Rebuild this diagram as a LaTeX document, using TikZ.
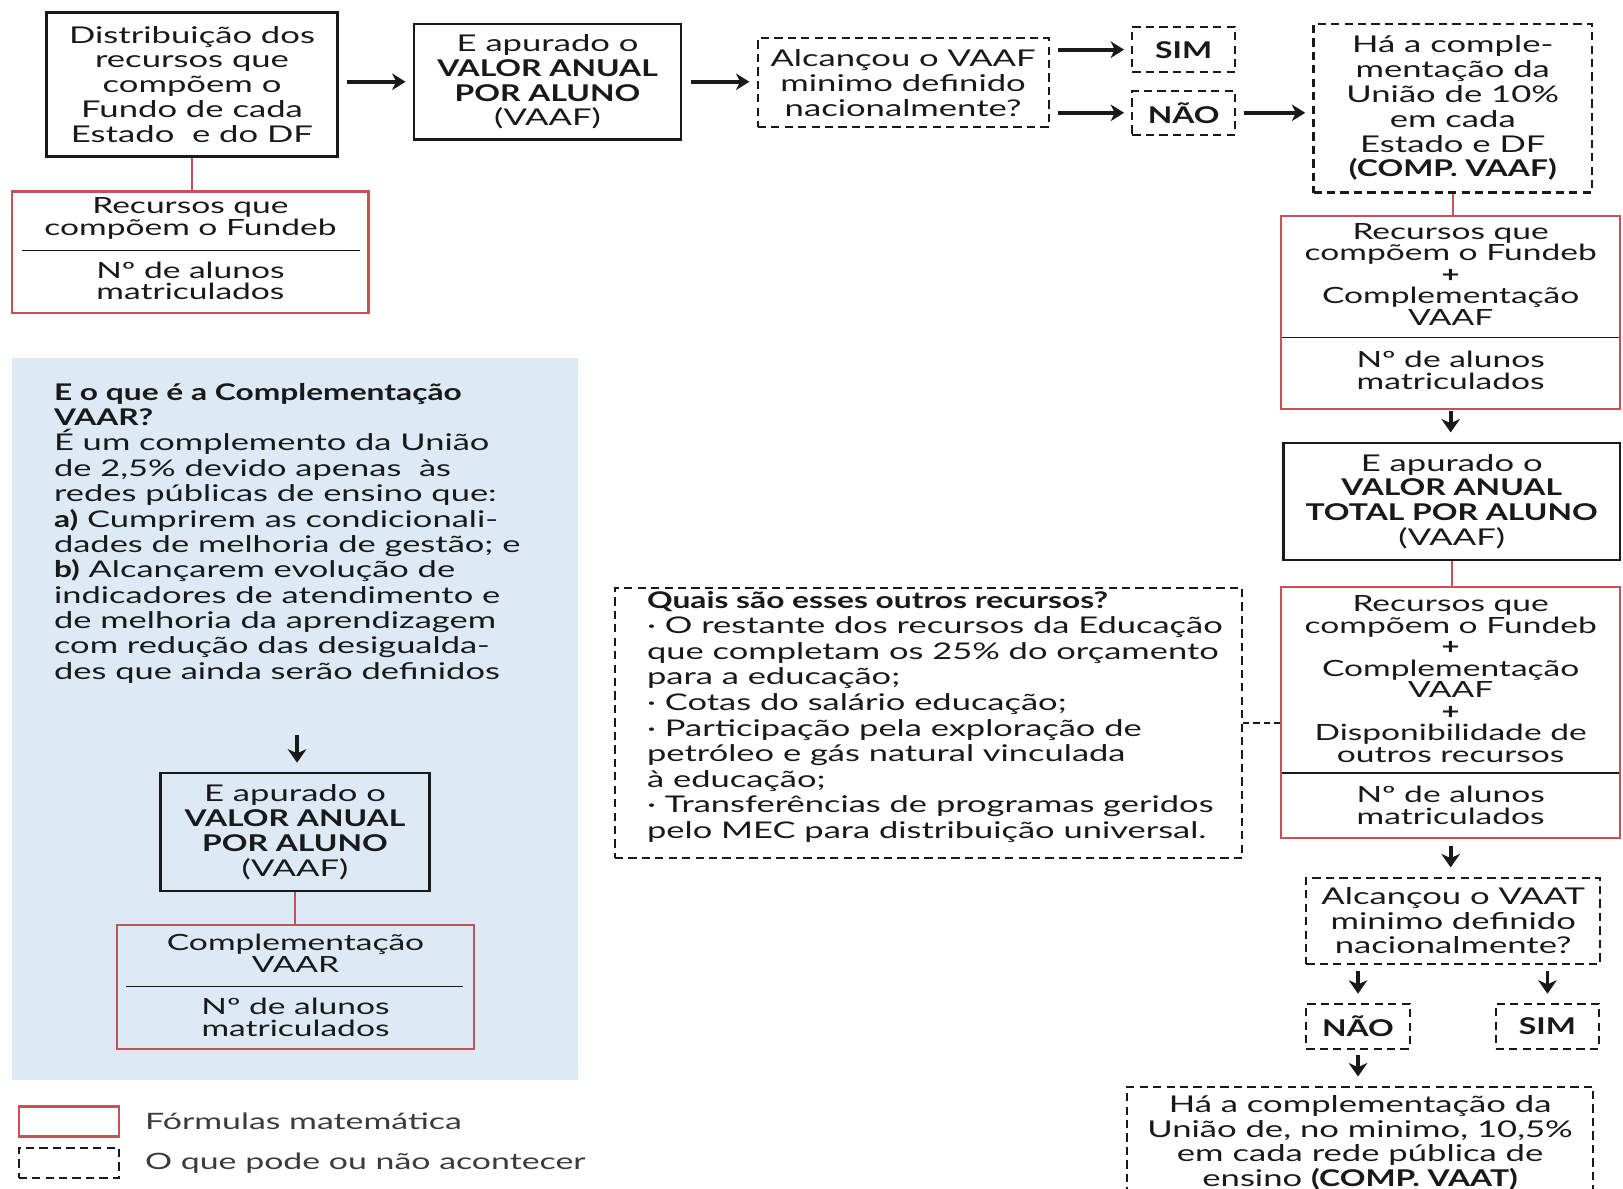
\documentclass[tikz,border=0pt]{standalone}
\usepackage{fontspec}
\setmainfont[FakeStretch=1.5,BoldFeatures={FakeStretch=1.38}]{Lato}
\usetikzlibrary{arrows.meta,calc}
\definecolor{fred}{RGB}{196,82,86}
\definecolor{panelblue}{RGB}{221,234,245}
\definecolor{ink}{RGB}{25,25,25}
\tikzset{
  boxfont/.style={font=\fontsize{22.3}{24}\selectfont},
  solidbox/.style={draw=ink, line width=2.4pt, inner sep=0pt, align=center, text=ink, boxfont},
  dashbox/.style={draw=ink, line width=2pt, dash pattern=on 8pt off 5pt, inner sep=0pt, align=center, text=ink, boxfont},
  boldbox/.style={dashbox, font=\bfseries\fontsize{22.3}{24}\selectfont},
  redbox/.style={draw=fred, line width=2pt, inner sep=0pt},
  redtxt/.style={inner sep=0pt, align=center, text=ink, font=\fontsize{21.6}{20.8}\selectfont},
  plaintxt/.style={inner sep=0pt, align=center, text=ink, font=\fontsize{22.3}{23.6}\selectfont},
  lefttxt/.style={inner sep=0pt, align=left, text=ink, anchor=north west},
  arr/.style={draw=ink, line width=3.6pt, -{Stealth[length=13pt,width=16pt,inset=4pt]}, shorten <=8pt, shorten >=7pt},
  varr/.style={draw=ink, line width=3.6pt, -{Stealth[length=13pt,width=18pt,inset=4pt]}},
  redlink/.style={draw=fred, line width=1.8pt},
  divider/.style={draw=ink, line width=1.6pt},
  dashlink/.style={draw=ink, line width=1.8pt, dash pattern=on 6pt off 4pt},
}
\begin{document}
\begin{tikzpicture}[x=1pt,y=-1pt]
\useasboundingbox[fill=white] (0,0) rectangle (1568,1148);
\clip (0,0) rectangle (1568,1148);

% blue panel
\node[fill=panelblue, minimum width=546, minimum height=697, inner sep=0pt] (panel) at (285,694.5) {};

% top row
\node[solidbox, minimum width=281, minimum height=139] (b1) at (185.5,81.5)
  {Distribuição dos\\recursos que\\compõem o\\Fundo de cada\\Estado\ \ e do DF};
\node[solidbox, minimum width=258, minimum height=112] (b2) at (529,79)
  {E apurado o\\\textbf{VALOR ANUAL}\\\textbf{POR ALUNO}\\(VAAF)};
\node[dashbox, minimum width=281, minimum height=86] (b3) at (872.5,80)
  {Alcançou o VAAF\\minimo definido\\nacionalmente?};
\node[boldbox, minimum width=99, minimum height=44] (sim1) at (1143.5,48) {SIM};
\node[boldbox, minimum width=99, minimum height=42] (nao1) at (1143.5,109) {NÃO};
\node[dashbox, minimum width=269, minimum height=163] (comp1) at (1403.5,104.5)
  {Há a comple-\\mentação da\\União de 10\%\\em cada\\Estado e DF\\\textbf{(COMP. VAAF)}};

\draw[arr] (b1.east |- b2.west) -- (b2.west);
\draw[arr] (b2.east) -- (b2.east -| b3.west);
\draw[arr] (b3.east |- sim1.west) -- (sim1.west);
\draw[arr] (b3.east |- nao1.west) -- (nao1.west);
\draw[arr] (nao1.east) -- (nao1.east -| comp1.west);

% R1
\node[redbox, minimum width=344, minimum height=117] (r1) at (184,243.5) {};
\node[redtxt] (r1a) at (184,211) {Recursos que\\compõem o Fundeb};
\node[redtxt] (r1b) at (184,271.5) {Nº de alunos\\matriculados};
\draw[divider] (21,242) -- (348,242);
\draw[redlink] (b1.south) -- (b1.south |- r1.north);

% R2
\node[redbox, minimum width=327, minimum height=186] (r2) at (1401.5,302) {};
\node[redtxt] (r2a) at (1401.5,265) {Recursos que\\compõem o Fundeb\\\textbf{+}\\Complementação\\VAAF};
\node[redtxt] (r2b) at (1401.5,358) {Nº de alunos\\matriculados};
\draw[divider] (1239,326) -- (1564,326);
\draw[redlink] (comp1.south) -- (comp1.south |- r2.north);

% total
\node[solidbox, minimum width=325, minimum height=113] (tot) at (1402.5,484.5)
  {E apurado o\\\textbf{VALOR ANUAL}\\\textbf{TOTAL POR ALUNO}\\(VAAF)};
\draw[varr, shorten <=1pt, shorten >=9pt] (r2.south) -- (r2.south |- tot.north);

% R3
\node[redbox, minimum width=327, minimum height=243] (r3) at (1401.5,688.5) {};
\node[redtxt] (r3a) at (1401.5,656) {Recursos que\\compõem o Fundeb\\\textbf{+}\\Complementação\\VAAF\\\textbf{+}\\Disponibilidade de\\outros recursos};
\node[redtxt] (r3b) at (1401.5,778) {Nº de alunos\\matriculados};
\draw[divider] (1239,747) -- (1564,747);
\draw[redlink] (tot.south) -- (tot.south |- r3.north);

% other resources
\node[dashbox, minimum width=606, minimum height=261] (q) at (897,698.5) {};
\node[lefttxt, font=\fontsize{22.2}{24.7}\selectfont] (qt) at (625,571)
  {\textbf{Quais são esses outros recursos?}\\
   · O restante dos recursos da Educação\\
   que completam os 25\% do orçamento\\
   para a educação;\\
   · Cotas do salário educação;\\
   · Participação pela exploração de\\
   petróleo e gás natural vinculada\\
   à educação;\\
   · Transferências de programas geridos\\
   pelo MEC para distribuição universal.};
\draw[dashlink] (q.east) -- (q.east -| r3.west);

% VAAT
\node[dashbox, minimum width=284, minimum height=83] (vaat) at (1404,889.5)
  {Alcançou o VAAT\\minimo definido\\nacionalmente?};
\draw[varr, shorten <=6pt, shorten >=9pt] (r3.south) -- (r3.south |- vaat.north);
\node[boldbox, minimum width=100, minimum height=43] (nao2) at (1312,991.5) {NÃO};
\node[boldbox, minimum width=100, minimum height=43] (sim2) at (1495,991.5) {SIM};
\draw[varr, shorten <=6pt, shorten >=9pt] (nao2.north |- vaat.south) -- (nao2.north);
\draw[varr, shorten <=6pt, shorten >=9pt] (sim2.north |- vaat.south) -- (sim2.north);
\node[dashbox, minimum width=450, minimum height=160] (vcomp) at (1314,1130) {};
\node[plaintxt] (vcompt) at (1314,1104)
  {Há a complementação da\\União de, no minimo, 10,5\%\\em cada rede pública de\\ensino \textbf{(COMP. VAAT)}};
\draw[varr, shorten <=5pt, shorten >=9pt] (nao2.south) -- (nao2.south |- vcomp.north);

% panel content
\node[lefttxt, font=\fontsize{22.2}{24.5}\selectfont] (pt) at (52,370)
  {\textbf{E o que é a Complementação}\\
   \textbf{VAAR?}\\
   É um complemento da União\\
   de 2,5\% devido apenas\ \ às\\
   redes públicas de ensino que:\\
   \textbf{a)} Cumprirem as condicionali-\\
   dades de melhoria de gestão; e\\
   \textbf{b)} Alcançarem evolução de\\
   indicadores de atendimento e\\
   de melhoria da aprendizagem\\
   com redução das desigualda-\\
   des que ainda serão definidos};
\coordinate (pa) at (287,710);
\node[solidbox, minimum width=260, minimum height=114] (b4) at (285,804)
  {E apurado o\\\textbf{VALOR ANUAL}\\\textbf{POR ALUNO}\\(VAAF)};
\draw[varr, shorten >=9pt] (pa) -- (pa |- b4.north);
\node[redbox, minimum width=345, minimum height=119] (r4) at (285.5,953.5) {};
\node[redtxt] (r4a) at (285.5,921) {Complementação\\VAAR};
\node[redtxt] (r4b) at (285.5,983) {Nº de alunos\\matriculados};
\draw[divider] (122,953) -- (447,953);
\draw[redlink] (b4.south) -- (b4.south |- r4.north);

% legend
\node[redbox, minimum width=97, minimum height=29] (lg1) at (66.5,1083.5) {};
\node[dashbox, minimum width=97, minimum height=29] (lg2) at (66.5,1123.5) {};
\node[inner sep=0pt, anchor=west, text=ink!85, font=\fontsize{21.8}{24}\selectfont] (lg1t) at (140,1083) {Fórmulas matemática};
\node[inner sep=0pt, anchor=west, text=ink!85, font=\fontsize{21.8}{24}\selectfont] (lg2t) at (140,1124) {O que pode ou não acontecer};
\end{tikzpicture}
\end{document}
